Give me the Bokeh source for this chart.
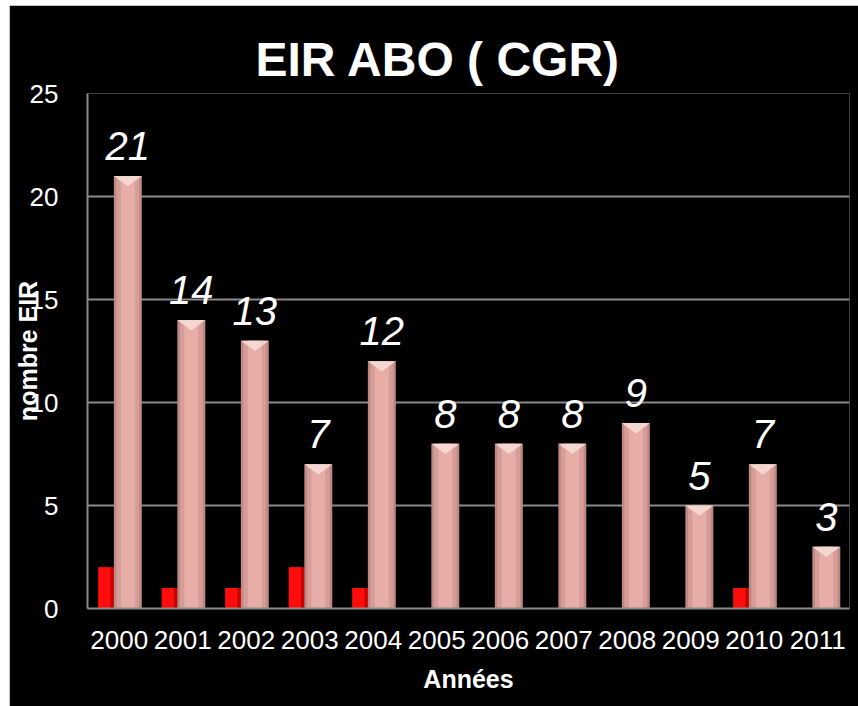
from bokeh.plotting import figure
from bokeh.models import Range1d, FixedTicker, LabelSet, ColumnDataSource, Spacer
from bokeh.layouts import row, column
from bokeh.core.properties import value
from bokeh.embed import file_html
from bokeh.resources import INLINE

# ---- data ----
years = ["2000", "2001", "2002", "2003", "2004", "2005",
         "2006", "2007", "2008", "2009", "2010", "2011"]
red_values = [2, 1, 1, 2, 1, 0, 0, 0, 0, 0, 1, 0]
eir_values = [21, 14, 13, 7, 12, 8, 8, 8, 9, 5, 7, 3]
y_ticks = [0, 5, 10, 15, 20, 25]
title_text = "EIR ABO ( CGR)"
x_title = "Années"
y_title = "nombre EIR"

FONT = "Liberation Sans"
GRID = "#8a8a8a"

idx = list(range(len(years)))
red_x = [i - 0.205 for i in idx]
pink_x = [i + 0.135 for i in idx]

p = figure(width=849, height=701, output_backend="svg", toolbar_location=None,
           x_range=Range1d(-0.5, len(years) - 0.5), y_range=Range1d(0, 25),
           min_border_left=78, min_border_right=9, min_border_top=88,
           min_border_bottom=98, title=title_text)
p.background_fill_color = "black"
p.border_fill_color = "black"
p.outline_line_color = None

# title
p.title.text_color = "white"
p.title.text_font = FONT
p.title.text_font_style = "bold"
p.title.text_font_size = "48px"
p.title.align = "left"
p.title.offset = 168
p.title.standoff = 16

# axes
p.xaxis.ticker = FixedTicker(ticks=idx)
p.xaxis.major_label_overrides = {i: y for i, y in zip(idx, years)}
p.yaxis.ticker = FixedTicker(ticks=y_ticks)
for ax in (p.xaxis[0], p.yaxis[0]):
    ax.axis_line_color = GRID
    ax.axis_line_width = 2
    ax.major_tick_line_color = None
    ax.minor_tick_line_color = None
    ax.major_label_text_color = "white"
    ax.major_label_text_font = FONT
    ax.major_label_text_font_size = "26px"
    ax.axis_label_text_color = "white"
    ax.axis_label_text_font = FONT
    ax.axis_label_text_font_style = "bold"
    ax.axis_label_text_font_size = "25px"
p.xaxis.major_label_standoff = 16
p.yaxis.major_label_standoff = 23
p.xaxis.axis_label = x_title
p.xaxis.axis_label_standoff = 13
p.yaxis.axis_label = y_title
p.yaxis.axis_label_standoff = -15
p.xgrid.grid_line_color = None
p.ygrid.grid_line_color = GRID
p.ygrid.grid_line_width = 2

# red bars
p.vbar(x=red_x, top=red_values, width=0.25, bottom=0,
       fill_color="#c80000", line_color=None)
p.vbar(x=[x - 0.03 for x in red_x], top=red_values, width=0.19, bottom=0,
       fill_color="#ff0d0d", line_color=None)

# pink bars (layered for a cylinder-like shading)
p.vbar(x=pink_x, top=eir_values, width=0.44, bottom=0,
       fill_color="#bd8985", line_color=None)
p.vbar(x=pink_x, top=eir_values, width=0.36, bottom=0,
       fill_color="#d69d98", line_color=None)
p.vbar(x=pink_x, top=eir_values, width=0.22, bottom=0,
       fill_color="#e7aea8", line_color=None)

# bevel at top of pink bars
bevel_depth = 0.5
xs = [[x - 0.22, x + 0.22, x] for x in pink_x]
ys = [[v, v, v - bevel_depth] for v in eir_values]
p.patches(xs=xs, ys=ys, fill_color="#f6d9d4", line_color=None, fill_alpha=0.95)

# value labels
src = ColumnDataSource(dict(x=pink_x, y=eir_values, t=[str(v) for v in eir_values]))
p.add_layout(LabelSet(x="x", y="y", text="t", source=src, y_offset=16,
                      text_align="center", text_baseline="alphabetic",
                      text_color="white", text_font=value(FONT),
                      text_font_style="italic", text_font_size="40px"))

layout = column(Spacer(width=1, height=5),
                row(Spacer(width=9, height=1), p))

open("out.html", "w").write(file_html(layout, INLINE))
